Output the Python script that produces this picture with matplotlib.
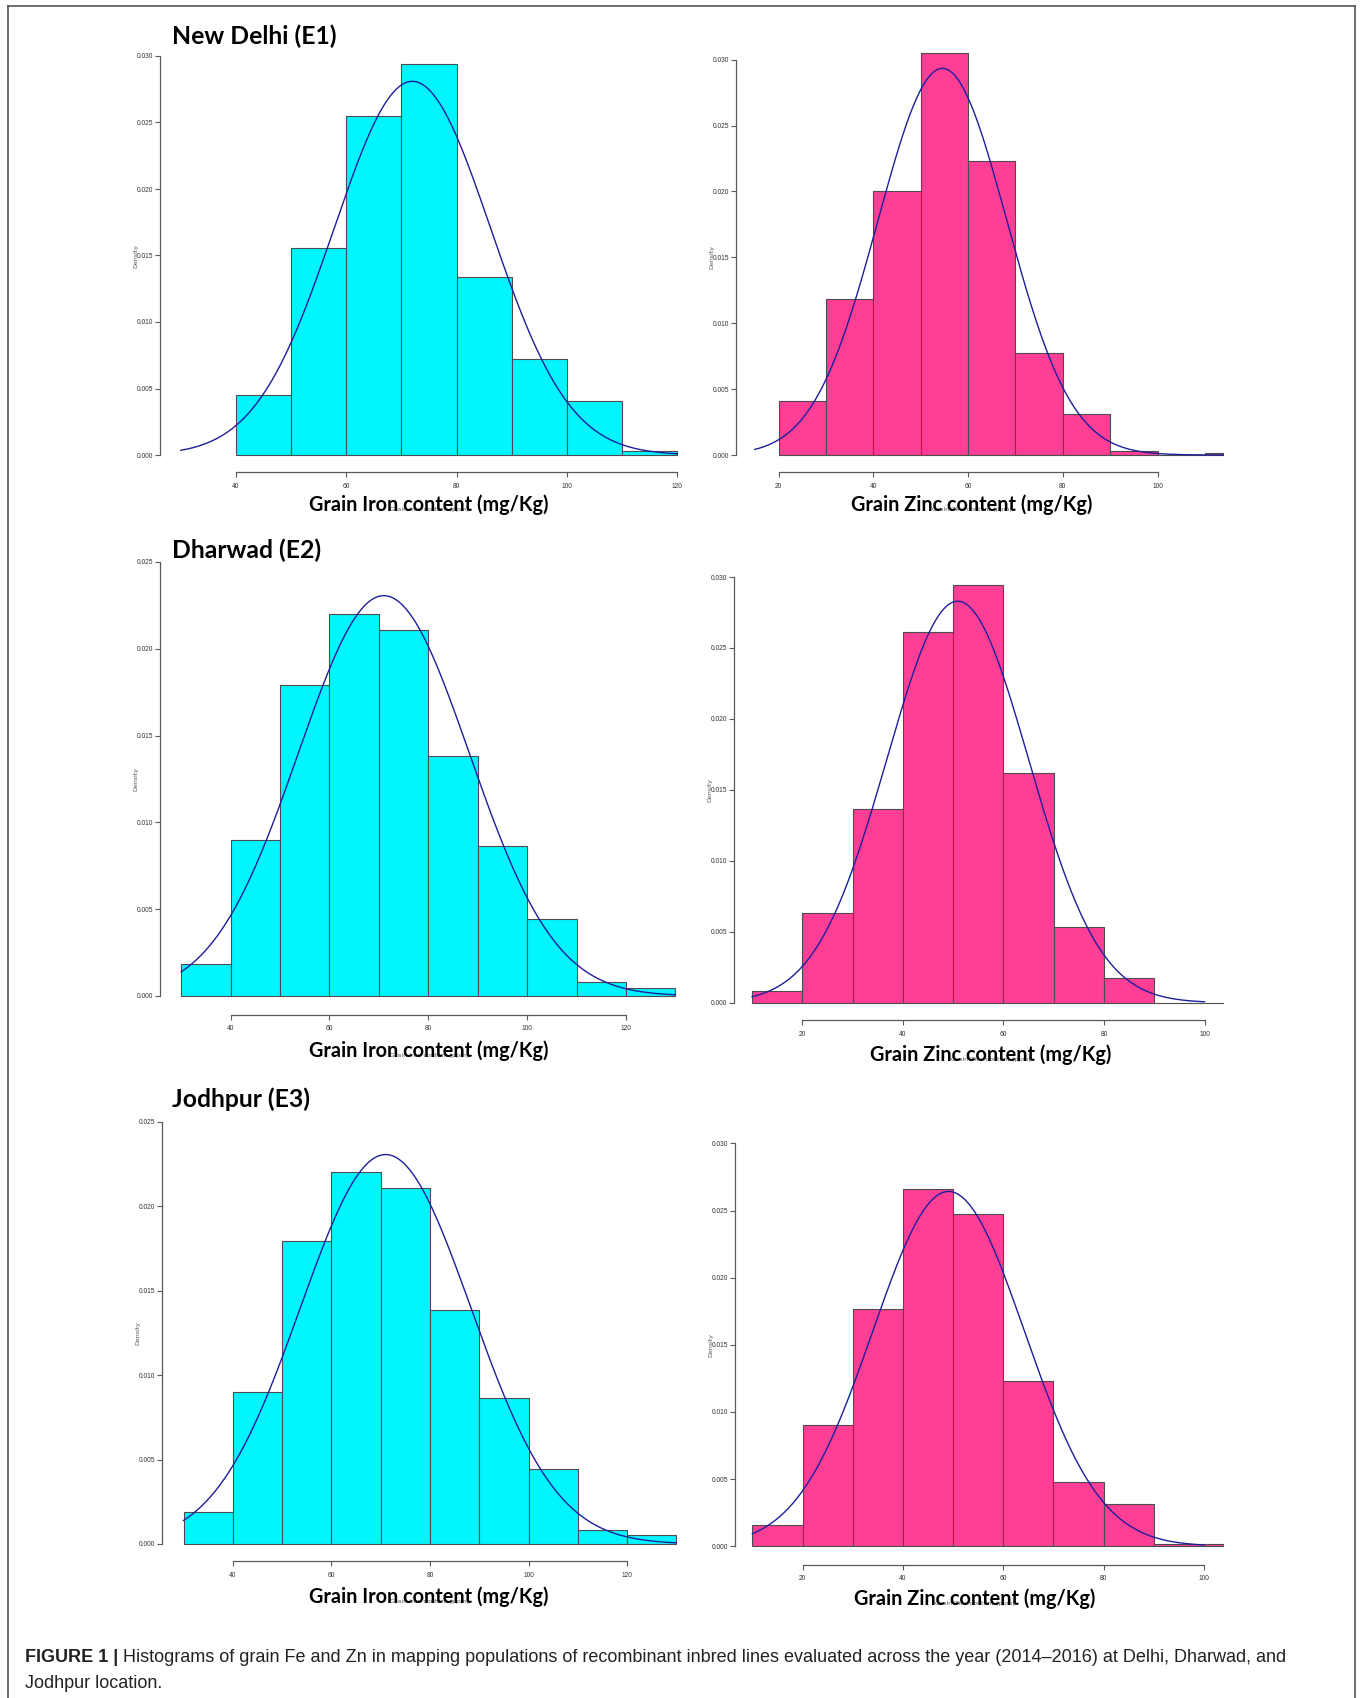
import numpy as np
import matplotlib.pyplot as plt
from matplotlib.lines import Line2D

W, H = 1360, 1698

# histogram densities (bins of width 10)
fe_e1_edges = [40, 50, 60, 70, 80, 90, 100, 110, 120]
fe_e1_density = [0.00452, 0.01559, 0.02549, 0.02943, 0.01335, 0.00722, 0.00407, 0.0003]
zn_e1_edges = [20, 30, 40, 50, 60, 70, 80, 90, 100, 110, 120]
zn_e1_density = [0.00409, 0.0118, 0.0200, 0.0305, 0.0223, 0.00776, 0.00313, 0.00033, 0.0, 0.00017]

fe_e2_edges = [30, 40, 50, 60, 70, 80, 90, 100, 110, 120, 130]
fe_e2_density = [0.00187, 0.00898, 0.01793, 0.0220, 0.02108, 0.01382, 0.00862, 0.00442, 0.00081, 0.00048]
zn_e2_edges = [10, 20, 30, 40, 50, 60, 70, 80, 90, 100, 110]
zn_e2_density = [0.0008, 0.00631, 0.01367, 0.02612, 0.02942, 0.01618, 0.00535, 0.00177, 0.0, 0.0]

fe_e3_edges = [30, 40, 50, 60, 70, 80, 90, 100, 110, 120, 130]
fe_e3_density = [0.0019, 0.00899, 0.01795, 0.02202, 0.02107, 0.01383, 0.00864, 0.00442, 0.00081, 0.00051]
zn_e3_edges = [10, 20, 30, 40, 50, 60, 70, 80, 90, 100, 110]
zn_e3_density = [0.00161, 0.0090, 0.01768, 0.02661, 0.02472, 0.01232, 0.00478, 0.00317, 0.0002, 0.0002]

# fitted normal curves: mean, sd, drawn range
fe_e1_fit = (72.0, 14.2, 30, 120)
zn_e1_fit = (54.6, 13.6, 15, 120)
fe_e2_fit = (71.0, 17.3, 30, 130)
zn_e2_fit = (50.9, 14.1, 10, 100)
fe_e3_fit = (71.0, 17.3, 30, 130)
zn_e3_fit = (49.1, 15.1, 10, 100)

locations = ["New Delhi (E1)", "Dharwad (E2)", "Jodhpur (E3)"]
fe_label = "Grain Iron content (mg/Kg)"
zn_label = "Grain Zinc content (mg/Kg)"
fe_small = "Grain Iron content (ppm)"
zn_small = "Grain Zinc content (ppm)"

CYAN = "#00F5FF"
PINK = "#FF3E96"
CURVE = "#1e1e9c"
AXC = "#5a5a5a"

fig = plt.figure(figsize=(W / 100, H / 100), dpi=100)


def fx(px):
    return px / W


def fy(py):
    return 1 - py / H


# panel geometry in pixels: x ticks (value0, value1, px0, px1), y top tick, py of 0 and top tick,
# y-axis px, x-axis py, right crop px, top py, label centre (px, py)
panels = [
    (fe_e1_edges, fe_e1_density, fe_e1_fit, CYAN, (40, 120, 236, 677), 0.030, 455, 56, 160, 472, 680, 40, (429, 505), fe_label, fe_small),
    (zn_e1_edges, zn_e1_density, zn_e1_fit, PINK, (20, 100, 778.5, 1157.5), 0.030, 455, 59.6, 736, 472, 1224, 44, (972, 505), zn_label, zn_small),
    (fe_e2_edges, fe_e2_density, fe_e2_fit, CYAN, (40, 120, 230.6, 626), 0.025, 996, 562, 160, 1014.6, 677, 545, (429, 1051), fe_label, fe_small),
    (zn_e2_edges, zn_e2_density, zn_e2_fit, PINK, (20, 100, 802.4, 1204.5), 0.030, 1002.7, 577, 734, 1020, 1224, 560, (991, 1055), zn_label, zn_small),
    (fe_e3_edges, fe_e3_density, fe_e3_fit, CYAN, (40, 120, 232.8, 627.2), 0.025, 1544, 1121.8, 162, 1561.4, 677, 1104, (429, 1597), fe_label, fe_small),
    (zn_e3_edges, zn_e3_density, zn_e3_fit, PINK, (20, 100, 802.6, 1204), 0.030, 1546.2, 1143.4, 735, 1564.6, 1224, 1127, (975, 1599), zn_label, zn_small),
]

tick_font = ['Liberation Sans Narrow', 'Liberation Sans', 'DejaVu Sans']

for edges, dens, fit, color, xt, ytop, py0, pytop, pxl, pyb, pxr, pyt, lab, big, small in panels:
    v0, v1, p0, p1 = xt
    xv = lambda p: v0 + (p - p0) * (v1 - v0) / (p1 - p0)
    yv = lambda p: (py0 - p) * ytop / (py0 - pytop)
    ax = fig.add_axes([fx(pxl), fy(pyb), fx(pxr) - fx(pxl), fy(pyt) - fy(pyb)])
    ax.set_xlim(xv(pxl), xv(pxr))
    ax.set_ylim(yv(pyb), yv(pyt))
    ax.patch.set_alpha(0)

    edges = np.array(edges)
    ax.bar(edges[:-1], dens, width=np.diff(edges), align='edge', color=color,
           edgecolor='#4d4d4d', linewidth=0.8)

    mu, sd, a, b = fit
    xs = np.linspace(a, b, 300)
    ax.plot(xs, np.exp(-0.5 * ((xs - mu) / sd) ** 2) / (sd * np.sqrt(2 * np.pi)),
            color=CURVE, lw=1.0)

    for s in ['top', 'right']:
        ax.spines[s].set_visible(False)
    ax.spines['left'].set_bounds(0, ytop)
    ax.spines['bottom'].set_bounds(v0, v1)
    for s in ['left', 'bottom']:
        ax.spines[s].set_color(AXC)
        ax.spines[s].set_linewidth(0.9)
    ax.set_yticks(np.arange(0, ytop + 1e-9, 0.005))
    ax.set_yticklabels([f"{t:.3f}" for t in np.arange(0, ytop + 1e-9, 0.005)])
    ax.set_xticks(np.arange(v0, v1 + 1, 20))
    ax.tick_params(colors=AXC, length=3.6, width=0.8, labelsize=4.8, labelcolor='#333333')
    ax.tick_params(axis='y', pad=1)
    ax.tick_params(axis='x', pad=4)
    for t in ax.get_xticklabels() + ax.get_yticklabels():
        t.set_family(tick_font)

    # small R axis titles
    fig.text(fx(pxl - 24), fy((py0 + pytop) / 2), "Density", rotation=90, fontsize=4.5,
             color='#555555', ha='center', va='center')
    fig.text(fx(lab[0]), fy(lab[1] + 5), small, fontsize=4.5, color='#555555', ha='center', va='center')
    # overlaid bold axis title
    fig.text(fx(lab[0]), fy(lab[1]), big, fontsize=14.3, fontweight='bold', family='Lato',
             ha='center', va='center', color='black')

title_pos = [(172, 36), (172, 550), (172, 1099)]
for name, (px, py) in zip(locations, title_pos):
    fig.text(fx(px), fy(py), name, fontsize=17.8, fontweight='bold', family='Lato',
             ha='left', va='center', color='black')

# frame
for xs_, ys_ in [([8, 8], [H, 6]), ([8, 1355], [6, 6]), ([1355, 1355], [6, H])]:
    fig.add_artist(Line2D([fx(x) for x in xs_], [fy(y) for y in ys_], color='#555555', lw=1.2))

# caption
cap_bold = "FIGURE 1 |"
cap_rest = (" Histograms of grain Fe and Zn in mapping populations of recombinant inbred lines "
            "evaluated across the year (2014\u20132016) at Delhi, Dharwad, and")
cap_line2 = "Jodhpur location."
t1 = fig.text(fx(25), fy(1658), cap_bold, fontsize=13, fontweight='bold', family='Liberation Sans',
              ha='left', va='center', color='#222222')
r = fig.canvas.get_renderer()
bb = t1.get_window_extent(renderer=r)
fig.text(bb.x1 / W, fy(1658), cap_rest, fontsize=13, family='Liberation Sans',
         ha='left', va='center', color='#222222')
fig.text(fx(25), fy(1683), cap_line2, fontsize=13, family='Liberation Sans',
         ha='left', va='center', color='#222222')

fig.savefig("out.png", dpi=100)
